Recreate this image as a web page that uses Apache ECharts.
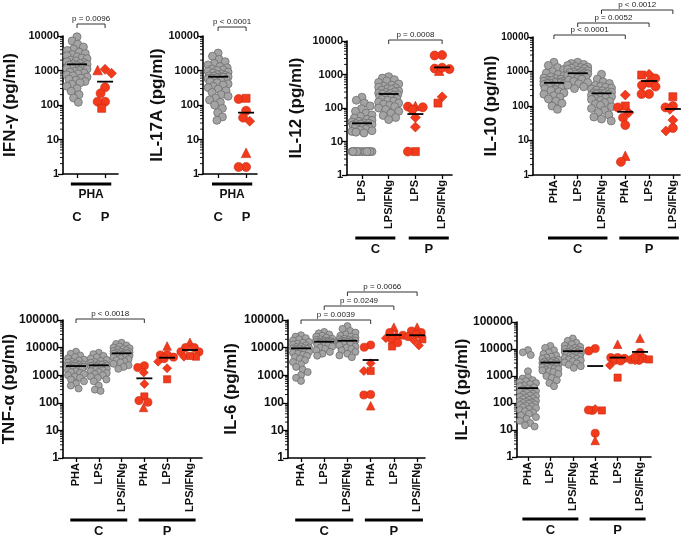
<!DOCTYPE html>
<html><head><meta charset="utf-8">
<script src="https://cdn.jsdelivr.net/npm/echarts@6/dist/echarts.min.js"></script>
<style>html,body{margin:0;padding:0;background:#fff}#c{width:685px;height:538px}</style>
</head><body><div id="c"></div>
<script>
// ---------------- DATA (pg/ml) ----------------
// IFN-gamma
const ifnCats = ['C', 'P'];
const ifnC_PHA = [9500, 7200, 5800, 4800, 4200, 3800, 3400, 3100, 2900, 2700, 2500, 2300, 2200, 2000, 1900, 1800, 1700, 1600, 1550, 1500, 1450, 1400, 1300, 1200, 1150, 1100, 1000, 950, 900, 850, 800, 750, 700, 650, 600, 560, 520, 480, 440, 400, 350, 300, 250, 200, 160, 120];
const ifnP_PHA = [1080, 830, 1030, 325, 218, 125, 125, 80];
const ifnP_PHA_sym = ['diamond', 'diamond', 'triangle', 'circle', 'circle', 'circle', 'circle', 'rect'];
const ifnMeans = [1510, 475];
const ifnP = ['p = 0.0096'];

// IL-17A
const il17Cats = ['C', 'P'];
const il17C_PHA = [3200, 2600, 2100, 1800, 1600, 1450, 1300, 1200, 1100, 1050, 1000, 950, 900, 850, 800, 760, 720, 700, 680, 660, 650, 640, 620, 600, 580, 550, 520, 500, 470, 440, 410, 380, 350, 320, 290, 260, 230, 200, 180, 160, 140, 120, 100, 80, 60, 45, 36];
const il17P_PHA = [149, 156, 68, 43, 34, 4.1, 1.6, 1.6];
const il17P_PHA_sym = ['circle', 'rect', 'circle', 'circle', 'diamond', 'triangle', 'circle', 'circle'];
const il17Means = [660, 60];
const il17P = ['p < 0.0001'];

// IL-12
const il12Cats = ['LPS', 'LPS/IFNg', 'LPS', 'LPS/IFNg'];
const il12C_LPS = [210, 170, 140, 115, 95, 80, 70, 62, 56, 50, 46, 43, 40, 38, 36, 35, 34, 33, 32, 31, 30, 28, 27, 26, 25, 24, 22, 21, 20, 19, 18, 5, 5, 5, 5, 5, 5, 5, 5, 5, 5, 5, 5];
const il12C_LPSIFN = [860, 780, 700, 640, 580, 520, 480, 450, 420, 400, 380, 360, 340, 320, 305, 290, 280, 270, 260, 250, 240, 230, 220, 210, 200, 190, 180, 170, 160, 150, 140, 130, 120, 110, 100, 90, 80, 70, 60, 52, 45];
const il12P_LPS = [110, 115, 105, 90, 52, 27, 5, 5];
const il12P_LPS_sym = ['circle', 'triangle', 'circle', 'circle', 'diamond', 'diamond', 'rect', 'circle'];
const il12P_LPSIFN = [3800, 3700, 1500, 1300, 1450, 1600, 215, 140];
const il12P_LPSIFN_sym = ['circle', 'circle', 'circle', 'triangle', 'circle', 'circle', 'diamond', 'rect'];
const il12Means = [35, 262, 66, 1630];
const il12P = ['p = 0.0008'];

// IL-10
const il10Cats = ['PHA', 'LPS', 'LPS/IFNg', 'PHA', 'LPS', 'LPS/IFNg'];
const il10C_PHA = [1850, 1500, 1300, 1150, 1000, 900, 820, 760, 700, 650, 620, 600, 560, 550, 530, 520, 500, 480, 470, 460, 450, 440, 420, 400, 380, 360, 340, 320, 300, 280, 260, 240, 220, 200, 180, 160, 140, 120, 100, 80];
const il10C_LPS = [1850, 1700, 1600, 1500, 1400, 1350, 1300, 1250, 1200, 1150, 1100, 1050, 1000, 960, 920, 900, 880, 860, 840, 800, 760, 720, 680, 640, 600, 560, 520, 480, 440, 400, 360, 320];
const il10C_LPSIFN = [830, 600, 500, 450, 400, 370, 350, 330, 310, 290, 275, 260, 250, 240, 235, 230, 225, 215, 205, 195, 185, 175, 165, 155, 145, 135, 125, 115, 105, 95, 85, 75, 65, 55, 48, 42, 37];
const il10P_PHA = [208, 100, 91, 64, 46, 28, 3.6, 2.4];
const il10P_PHA_sym = ['diamond', 'rect', 'circle', 'diamond', 'circle', 'circle', 'triangle', 'circle'];
const il10P_LPS = [790, 830, 630, 470, 400, 365, 223, 223];
const il10P_LPS_sym = ['rect', 'diamond', 'circle', 'circle', 'circle', 'circle', 'circle', 'circle'];
const il10P_LPSIFN = [186, 91, 100, 80, 39, 23, 19, 91];
const il10P_LPSIFN_sym = ['rect', 'circle', 'circle', 'diamond', 'diamond', 'circle', 'diamond', 'circle'];
const il10Means = [470, 890, 233, 68, 530, 82];
const il10P = ['p < 0.0001', 'p = 0.0052', 'p < 0.0012'];

// TNF-alpha
const tnfCats = ['PHA', 'LPS', 'LPS/IFNg', 'PHA', 'LPS', 'LPS/IFNg'];
const tnfC_PHA = [7100, 6000, 5200, 4600, 4100, 3700, 3400, 3100, 2900, 2700, 2500, 2400, 2300, 2200, 2150, 2100, 2050, 2000, 1900, 1800, 1700, 1600, 1500, 1400, 1300, 1200, 1100, 1000, 900, 800, 700, 600, 500, 420, 330];
const tnfC_LPS = [6500, 5800, 5000, 4500, 4000, 3600, 3300, 3000, 2800, 2600, 2500, 2400, 2300, 2250, 2200, 2100, 2000, 1900, 1800, 1700, 1600, 1500, 1400, 1300, 1200, 1100, 1000, 900, 800, 700, 600, 420, 300, 270];
const tnfC_LPSIFN = [15000, 13500, 12000, 11000, 10000, 9500, 9000, 8500, 8000, 7500, 7000, 6800, 6500, 6300, 6200, 6000, 5800, 5500, 5200, 5000, 4700, 4400, 4100, 3800, 3500, 3200, 2900, 2600, 2300, 2000, 1700];
const tnfP_PHA = [2200, 1900, 1250, 480, 170, 120, 105, 68];
const tnfP_PHA_sym = ['circle', 'circle', 'diamond', 'diamond', 'rect', 'circle', 'circle', 'triangle'];
const tnfP_LPS = [11400, 5400, 4500, 5500, 3100, 1780, 710, 4000];
const tnfP_LPS_sym = ['triangle', 'circle', 'circle', 'circle', 'diamond', 'diamond', 'rect', 'circle'];
const tnfP_LPSIFN = [15500, 10000, 10000, 7100, 4700, 7000, 4700, 5000];
const tnfP_LPSIFN_sym = ['triangle', 'circle', 'circle', 'circle', 'diamond', 'circle', 'rect', 'rect'];
const tnfMeans = [2150, 2280, 6200, 770, 4300, 8200];
const tnfP = ['p < 0.0018'];

// IL-6
const il6Cats = ['PHA', 'LPS', 'LPS/IFNg', 'PHA', 'LPS', 'LPS/IFNg'];
const il6C_PHA = [28000, 25000, 22000, 20000, 18000, 16000, 15000, 14000, 13000, 12000, 11000, 10500, 10000, 9600, 9400, 9200, 9000, 8500, 8000, 7500, 7000, 6500, 6000, 5500, 5000, 4500, 4000, 3500, 3000, 2500, 2000, 1600, 1300, 1000, 800, 620];
const il6C_LPS = [37000, 33000, 30000, 27000, 25000, 23000, 21000, 20000, 19000, 18000, 17500, 17000, 16800, 16500, 16000, 15800, 15500, 15200, 15000, 14500, 14000, 13500, 13000, 12000, 11000, 10000, 9000, 8000, 7000, 6000, 5100];
const il6C_LPSIFN = [60000, 48000, 40000, 35000, 30000, 27000, 25000, 23000, 21000, 20000, 19000, 18500, 18000, 17700, 17300, 17000, 16500, 16000, 15000, 14000, 13000, 12000, 11000, 10000, 9000, 8000, 7000, 6000, 5200, 4500];
const il6P_PHA = [12400, 10300, 2700, 1420, 1420, 192, 200, 78];
const il6P_PHA_sym = ['circle', 'circle', 'diamond', 'rect', 'diamond', 'circle', 'circle', 'triangle'];
const il6P_LPS = [55000, 35000, 28000, 30000, 22000, 20000, 11000, 15000];
const il6P_LPS_sym = ['triangle', 'circle', 'circle', 'triangle', 'diamond', 'circle', 'rect', 'circle'];
const il6P_LPSIFN = [55000, 40000, 35000, 30000, 25000, 20000, 18000, 12000];
const il6P_LPSIFN_sym = ['triangle', 'circle', 'circle', 'circle', 'circle', 'rect', 'diamond', 'diamond'];
const il6Means = [9400, 16300, 17700, 3550, 28600, 28000];
const il6P = ['p = 0.0039', 'p = 0.0249', 'p = 0.0066'];

// IL-1beta
const il1bCats = ['PHA', 'LPS', 'LPS/IFNg', 'PHA', 'LPS', 'LPS/IFNg'];
const il1bC_PHA = [9100, 7500, 6000, 1500, 900, 800, 700, 650, 600, 550, 500, 450, 420, 380, 350, 320, 300, 280, 260, 240, 220, 200, 190, 180, 170, 160, 150, 140, 130, 120, 115, 110, 105, 100, 95, 90, 85, 80, 75, 70, 65, 60, 55, 50, 45, 40, 35, 30, 26, 22, 18, 15, 13.5];
const il1bC_LPS = [13000, 11000, 9000, 7500, 6500, 5800, 5200, 4800, 4400, 4000, 3700, 3500, 3400, 3300, 3200, 3000, 2900, 2800, 2700, 2600, 2500, 2400, 2300, 2200, 2100, 2000, 1900, 1800, 1700, 1600, 1500, 1400, 1200, 1000, 850, 700, 550, 420];
const il1bC_LPSIFN = [24500, 20000, 17000, 15000, 13500, 12000, 11000, 10500, 10000, 9500, 9000, 8500, 8200, 8000, 7700, 7400, 7100, 6800, 6500, 6200, 5900, 5600, 5300, 5000, 4700, 4400, 4100, 3800, 3500, 3200, 2900, 2600, 2300, 2000];
const il1bP_PHA = [10400, 8500, 53, 53, 60, 55, 7.6, 4.1];
const il1bP_PHA_sym = ['circle', 'circle', 'rect', 'circle', 'diamond', 'circle', 'circle', 'triangle'];
const il1bP_LPS = [15000, 4500, 4800, 4800, 3800, 2500, 870, 3600];
const il1bP_LPS_sym = ['triangle', 'circle', 'circle', 'circle', 'circle', 'diamond', 'rect', 'circle'];
const il1bP_LPSIFN = [25000, 7400, 4000, 4500, 3800, 3800, 4100, 5000];
const il1bP_LPSIFN_sym = ['triangle', 'circle', 'circle', 'circle', 'circle', 'diamond', 'rect', 'circle'];
const il1bMeans = [355, 3150, 8300, 2340, 4800, 7800];

// ---------------- LAYOUT ----------------
const F = '"Liberation Sans", Arial, Helvetica, sans-serif';
const panels = [
  {name: 'IFN-γ (pg/ml)', cats: ifnCats, L: 63, R: 118, T: 36, B: 174, xmin: 0.5, xmax: 2.46, ymax: 1e4, gap: 44, lf: 11, mode: 'pha', row: 0,
   gray: [ifnC_PHA], red: [[ifnP_PHA, ifnP_PHA_sym]], means: ifnMeans, br: [[1, 2, ifnP[0], -12]]},
  {name: 'IL-17A (pg/ml)', cats: il17Cats, L: 203, R: 257, T: 36, B: 174, xmin: 0.46, xmax: 2.39, ymax: 1e4, gap: 37, lf: 11, mode: 'pha', row: 0,
   gray: [il17C_PHA], red: [[il17P_PHA, il17P_PHA_sym]], means: il17Means, br: [[1, 2, il17P[0], -9]]},
  {name: 'IL-12 (pg/ml)', cats: il12Cats, L: 347, R: 452, T: 41, B: 175, xmin: 0.44, xmax: 4.37, ymax: 1e4, gap: 42, lf: 11, mode: 'rot', row: 0,
   gray: [il12C_LPS, il12C_LPSIFN], red: [[il12P_LPS, il12P_LPS_sym], [il12P_LPSIFN, il12P_LPSIFN_sym]], means: il12Means,
   br: [[2, 4, il12P[0], -1]], bars: [[1, 2, 'C'], [3, 4, 'P']]},
  {name: 'IL-10 (pg/ml)', cats: il10Cats, L: 533, R: 680, T: 37, B: 175, xmin: 0.12, xmax: 6.3, ymax: 1e4, gap: 33, lf: 10, mode: 'rot', row: 0,
   gray: [il10C_PHA, il10C_LPS, il10C_LPSIFN], red: [[il10P_PHA, il10P_PHA_sym], [il10P_LPS, il10P_LPS_sym], [il10P_LPSIFN, il10P_LPSIFN_sym]], means: il10Means,
   br: [[1, 4, il10P[0], -2], [2, 5, il10P[1], -14], [3, 6, il10P[2], -27]], bars: [[1, 3, 'C'], [4, 6, 'P']]},
  {name: 'TNF-α (pg/ml)', cats: tnfCats, L: 63, R: 202, T: 320, B: 458, xmin: 0.43, xmax: 6.53, ymax: 1e5, gap: 45, lf: 12, mode: 'rot', row: 1,
   gray: [tnfC_PHA, tnfC_LPS, tnfC_LPSIFN], red: [[tnfP_PHA, tnfP_PHA_sym], [tnfP_LPS, tnfP_LPS_sym], [tnfP_LPSIFN, tnfP_LPSIFN_sym]], means: tnfMeans,
   br: [[1, 4, tnfP[0], -1]], bars: [[1, 3, 'C'], [4, 6, 'P']]},
  {name: 'IL-6 (pg/ml)', cats: il6Cats, L: 288, R: 425, T: 320, B: 458, xmin: 0.44, xmax: 6.34, ymax: 1e5, gap: 48, lf: 12, mode: 'rot', row: 1,
   gray: [il6C_PHA, il6C_LPS, il6C_LPSIFN], red: [[il6P_PHA, il6P_PHA_sym], [il6P_LPS, il6P_LPS_sym], [il6P_LPSIFN, il6P_LPSIFN_sym]], means: il6Means,
   br: [[1, 4, il6P[0], 0], [2, 5, il6P[1], -14], [3, 6, il6P[2], -28]], bars: [[1, 3, 'C'], [4, 6, 'P']]},
  {name: 'IL-1β (pg/ml)', cats: il1bCats, L: 517, R: 651, T: 322, B: 457, xmin: 0.51, xmax: 6.49, ymax: 1e5, gap: 46, lf: 12, mode: 'rot', row: 1,
   gray: [il1bC_PHA, il1bC_LPS, il1bC_LPSIFN], red: [[il1bP_PHA, il1bP_PHA_sym], [il1bP_LPS, il1bP_LPS_sym], [il1bP_LPSIFN, il1bP_LPSIFN_sym]], means: il1bMeans,
   br: [], bars: [[1, 3, 'C'], [4, 6, 'P']]}
];

const chart = echarts.init(document.getElementById('c'), null, {width: 685, height: 538});
const grids = [], xAxes = [], yAxes = [];
panels.forEach((p, i) => {
  grids.push({left: p.L, top: p.T, width: p.R - p.L, height: p.B - p.T, containLabel: false, outerBoundsMode: 'none'});
  const ticks = p.cats.map((c, k) => k + 1);
  const fmt = v => p.cats[Math.round(v) - 1] || '';
  xAxes.push({
    type: 'value', gridIndex: i, min: p.xmin, max: p.xmax,
    axisLine: {show: true, onZero: false, lineStyle: {color: '#000', width: 1.6}},
    axisTick: {show: true, customValues: ticks, length: 4, lineStyle: {color: '#000', width: 1.3}},
    axisLabel: p.mode === 'pha'
      ? {show: true, customValues: ticks, formatter: fmt, margin: 37, fontSize: 13, fontWeight: 'bold', color: '#111', fontFamily: F}
      : {show: true, customValues: ticks, formatter: fmt, rotate: 90, margin: 5, fontSize: 11, fontWeight: 'bold', color: '#111', fontFamily: F},
    splitLine: {show: false}
  });
  yAxes.push({
    type: 'log', logBase: 10, gridIndex: i, min: 1, max: p.ymax,
    axisLine: {show: true, lineStyle: {color: '#000', width: 1.6}},
    axisTick: {show: true, length: 5, lineStyle: {color: '#000', width: 1.3}},
    axisLabel: {formatter: v => String(Math.round(v)), fontSize: p.lf, fontWeight: 'bold', color: '#111', fontFamily: F, margin: 4},
    splitLine: {show: false},
    name: p.name, nameLocation: 'middle', nameGap: p.gap, nameRotate: 90, nameMoveOverlap: false,
    nameTextStyle: {fontSize: 17, fontWeight: 'bold', color: '#111', fontFamily: F}
  });
});
chart.setOption({animation: false, grid: grids, xAxis: xAxes, yAxis: yAxes});

// beeswarm layout of points (computed from the axis mapping)
function swarm(vals, gi, cx, D, maxW) {
  const px = v => chart.convertToPixel({gridIndex: gi}, [cx, v]);
  const unit = chart.convertToPixel({gridIndex: gi}, [cx + 1, 1])[0] - px(1)[0];
  const pts = vals.map((v, i) => ({i, y: px(v)[1]}));
  const order = pts.slice().sort((a, b) => a.y - b.y);
  const placed = [], out = new Array(vals.length);
  order.forEach(p => {
    const cands = [0];
    placed.forEach(q => { const dy = Math.abs(q.y - p.y); if (dy < D) { const dx = Math.sqrt(D * D - dy * dy); cands.push(q.x - dx, q.x + dx); } });
    cands.sort((a, b) => Math.abs(a) - Math.abs(b));
    let best = null;
    for (const c of cands) {
      if (Math.abs(c) > maxW + 0.01) continue;
      let ok = true;
      for (const q of placed) { if ((q.x - c) ** 2 + (q.y - p.y) ** 2 < D * D - 0.01) { ok = false; break; } }
      if (ok) { best = c; break; }
    }
    if (best === null) {
      let bd = -1;
      for (let c = -maxW; c <= maxW + 0.001; c += 1) {
        let md = 1e9;
        placed.forEach(q => { const d = Math.hypot(q.x - c, q.y - p.y); if (d < md) md = d; });
        if (md > bd + 1e-6) { bd = md; best = c; }
      }
    }
    p.x = best; placed.push(p); out[p.i] = cx + best / unit;
  });
  return out;
}

const series = [];
const symSize = {circle: 9, rect: 8, diamond: 10, triangle: 9.5};
panels.forEach((p, i) => {
  const sc = p.row ? 0.9 : 1;
  // minor ticks of the log axis (2..9 x each decade)
  const minors = [];
  for (let d = 1; d < p.ymax; d *= 10) for (let m = 2; m <= 9; m++) minors.push([p.xmin, m * d]);
  series.push({type: 'custom', xAxisIndex: i, yAxisIndex: i, silent: true, z: 1, data: minors,
    renderItem: (params, api) => {
      const c = api.coord([api.value(0), api.value(1)]);
      return {type: 'line', shape: {x1: c[0] - 3, y1: c[1], x2: c[0], y2: c[1]}, style: {stroke: '#000', lineWidth: 0.9}};
    }});
  const grayData = [];
  p.gray.forEach((vals, k) => {
    const xs = swarm(vals, i, k + 1, p.row ? 5.6 : 6.4, p.row ? 8 : 10);
    vals.forEach((v, j) => grayData.push([xs[j], v]));
  });
  series.push({type: 'scatter', xAxisIndex: i, yAxisIndex: i, data: grayData, symbol: 'circle', symbolSize: p.row ? 7 : 8,
    itemStyle: {color: '#a4a4a4', borderColor: '#6e6e6e', borderWidth: 0.8, opacity: 1}, z: 2, silent: true});
  const off = p.gray.length;
  const redData = [];
  p.red.forEach((pair, k) => {
    const [vals, syms] = pair;
    const xs = swarm(vals, i, off + k + 1, p.row ? 6.8 : 7.5, 9);
    vals.forEach((v, j) => redData.push({value: [xs[j], v], symbol: syms[j], symbolSize: symSize[syms[j]] * sc}));
  });
  series.push({type: 'scatter', xAxisIndex: i, yAxisIndex: i, data: redData,
    itemStyle: {color: '#f43a1c', borderColor: '#c42a10', borderWidth: 0.6, opacity: 1}, z: 3, silent: true});
  series.push({type: 'custom', xAxisIndex: i, yAxisIndex: i, z: 10, silent: true,
    data: p.means.map((m, k) => [k + 1, m, k < off ? 10 : 8]),
    renderItem: (params, api) => {
      const c = api.coord([api.value(0), api.value(1)]);
      const hw = api.value(2);
      return {type: 'line', shape: {x1: c[0] - hw, y1: c[1], x2: c[0] + hw, y2: c[1]}, style: {stroke: '#000', lineWidth: 1.8}};
    }});
});

const graphic = [];
panels.forEach((p, i) => {
  const px = (x, y) => chart.convertToPixel({gridIndex: i}, [x, y]);
  const yTop = px(p.xmin, p.ymax)[1], yBot = px(p.xmin, 1)[1];
  p.br.forEach(b => {
    const xa = px(b[0], 1)[0], xb = px(b[1], 1)[0], y = yTop + b[3];
    graphic.push({type: 'polyline', silent: true, shape: {points: [[xa, y + 4], [xa, y], [xb, y], [xb, y + 4]]}, style: {stroke: '#333', lineWidth: 1, fill: null}});
    graphic.push({type: 'text', silent: true, x: (xa + xb) / 2, y: y - 1.5, style: {text: b[2], font: '8px ' + F, fill: '#222', align: 'center', verticalAlign: 'bottom', textAlign: 'center', textVerticalAlign: 'bottom'}});
  });
  if (p.mode === 'pha') {
    const xa = px(1 - 0.22, 1)[0], xb = px(2 + 0.22, 1)[0], y = yBot + 10;
    graphic.push({type: 'line', silent: true, shape: {x1: xa, y1: y, x2: xb, y2: y}, style: {stroke: '#000', lineWidth: 3}});
    graphic.push({type: 'text', silent: true, x: (xa + xb) / 2, y: y + 11, style: {text: 'PHA', font: 'bold 12px ' + F, fill: '#111', align: 'center', verticalAlign: 'middle', textAlign: 'center', textVerticalAlign: 'middle'}});
  } else {
    p.bars.forEach(b => {
      const xa = px(b[0] - 0.25, 1)[0], xb = px(b[1] + 0.25, 1)[0], y = yBot + (p.row ? 62 : 63);
      graphic.push({type: 'line', silent: true, shape: {x1: xa, y1: y, x2: xb, y2: y}, style: {stroke: '#000', lineWidth: 3}});
      graphic.push({type: 'text', silent: true, x: (xa + xb) / 2, y: y + 11, style: {text: b[2], font: 'bold 13px ' + F, fill: '#111', align: 'center', verticalAlign: 'middle', textAlign: 'center', textVerticalAlign: 'middle'}});
    });
  }
});

chart.setOption({series: series, graphic: graphic});
</script></body></html>
